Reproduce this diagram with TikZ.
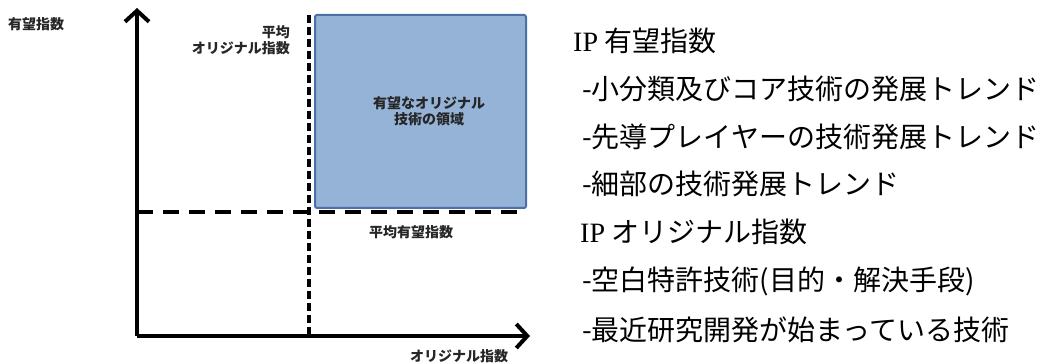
\documentclass[tikz,border=0pt]{standalone}
\usepackage{fontspec}
\setmainfont{Noto Sans CJK JP}
\newfontfamily\ipserif{Liberation Serif}
\usetikzlibrary{arrows.meta}
\definecolor{boxfill}{HTML}{95B3D7}
\definecolor{boxline}{HTML}{4A70A6}
\definecolor{lblgray}{HTML}{262626}
\begin{document}
\begin{tikzpicture}[x=1pt,y=-1pt,
  axisline/.style={line width=4pt,-{Straight Barb[length=11pt,width=24pt]}},
  vdash/.style={line width=3.5pt,dash pattern=on 8pt off 4pt},
  hdash/.style={line width=3.5pt,dash pattern=on 16pt off 10pt},
  regionbox/.style={fill=boxfill,draw=boxline,line width=2pt,rounded corners=2pt},
  lbl/.style={inner sep=0pt,text=lblgray,font=\fontsize{14}{16}\selectfont\bfseries},
  txt/.style={inner sep=0pt,anchor=base west,font=\fontsize{28}{30}\selectfont}
]
\useasboundingbox (0,0) rectangle (1043,363);
% coordinates
\coordinate (O) at (137,336);
\coordinate (ytip) at (137,8);
\coordinate (xtip) at (530,336);
\coordinate (vtop) at (309,15);
\coordinate (vbot) at (309,336);
\coordinate (hl) at (137,212);
\coordinate (hr) at (527,212);
% region box
\draw[regionbox] (315,15) rectangle (526,208);
% dashed average lines
\draw[hdash] (hl) -- (hr);
\draw[vdash] (vtop) -- (vbot);
% axes
\draw[axisline] (O) -- (ytip);
\draw[axisline] (O) -- (xtip);
% labels
\node[lbl,anchor=west] (ylab) at (8,24) {有望指数};
\node[lbl,align=right,anchor=east] (avgo) at (290,40) {平均\\オリジナル指数};
\node[lbl,align=center] (region) at (429,111) {有望なオリジナル\\技術の領域};
\node[lbl] (avgp) at (411,232) {平均有望指数};
\node[lbl] (xlab) at (459,356) {オリジナル指数};
% right text
\node[txt] (t1) at (573,52) {{\ipserif IP} 有望指数};
\node[txt] (t2) at (582,100) {-小分類及びコア技術の発展トレンド};
\node[txt] (t3) at (582,148) {-先導プレイヤーの技術発展トレンド};
\node[txt] (t4) at (582,195) {-細部の技術発展トレンド};
\node[txt] (t5) at (580,243) {{\ipserif IP} オリジナル指数};
\node[txt] (t6) at (582,290) {-空白特許技術(目的・解決手段)};
\node[txt] (t7) at (582,340) {-最近研究開発が始まっている技術};
\end{tikzpicture}
\end{document}
